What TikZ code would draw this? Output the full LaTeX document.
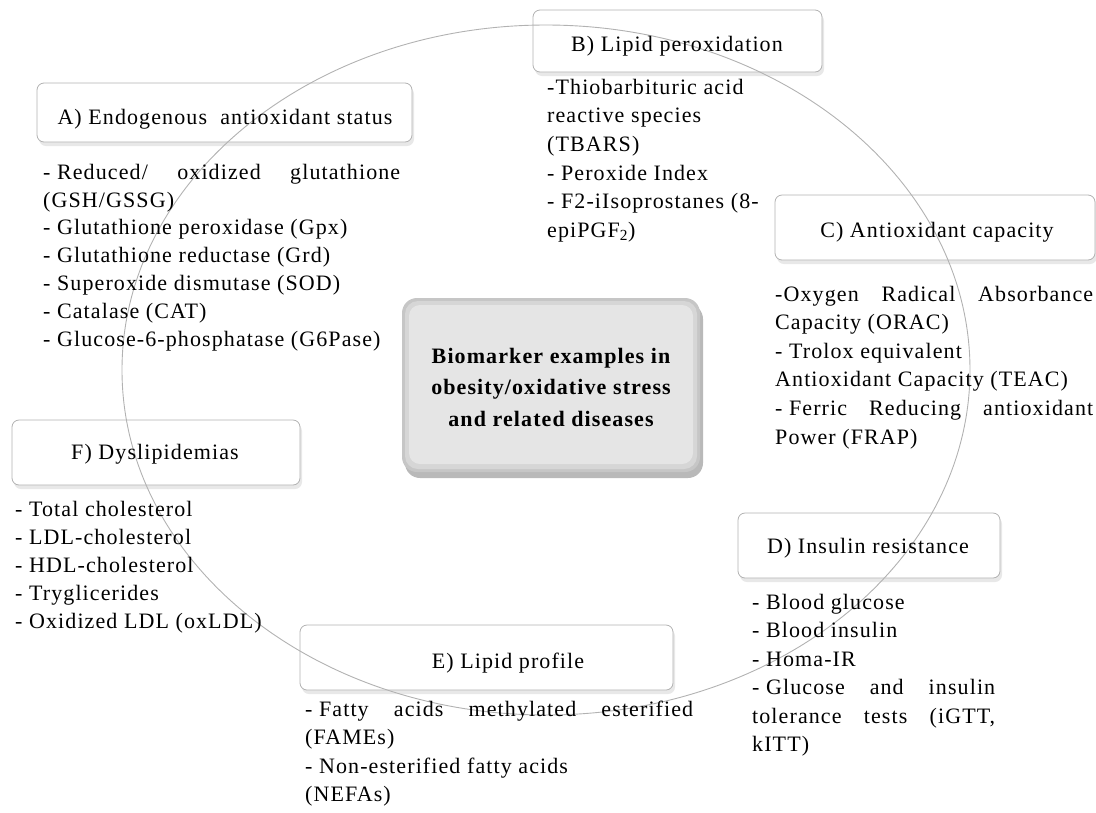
\documentclass[tikz,border=0pt]{standalone}
\usepackage{fontspec}
\setmainfont{Liberation Serif}[LetterSpace=5]
\usetikzlibrary{shadows}
\begin{document}
\begin{tikzpicture}[x=1pt,y=-1pt,
  box/.style={draw=gray!60, line width=0.8pt, rounded corners=7pt, fill=white,
    drop shadow={opacity=0.18, shadow xshift=2pt, shadow yshift=-4pt}, inner sep=0pt},
  ttl/.style={inner sep=0pt, font=\fontsize{22}{26}\selectfont},
  lst/.style={anchor=base west, align=left, inner sep=0pt},
  ring/.style={draw=gray!60, line width=0.9pt}]
\useasboundingbox (0,0) rectangle (1096,812);
% boxes
\node[box, minimum width=375pt, minimum height=59pt] (A) at (224.5,112.5) {};
\node[box, minimum width=289pt, minimum height=62pt] (B) at (677.5,41) {};
\node[box, minimum width=320pt, minimum height=65pt] (C) at (935,227.5) {};
\node[box, minimum width=262pt, minimum height=65pt] (D) at (869,545.5) {};
\node[box, minimum width=373pt, minimum height=65pt] (E) at (486.5,657.5) {};
\node[box, minimum width=288pt, minimum height=65pt] (F) at (156,452.5) {};
% centre box
\fill[gray!55, rounded corners=15pt] (405,304) rectangle (703,478);
\node[fill=gray!45, rounded corners=15pt, minimum width=298pt, minimum height=174pt, inner sep=0pt] (M) at (551,385) {};
\fill[gray!32, rounded corners=13pt] (405,301) rectangle (697,469);
\fill[gray!20, rounded corners=11pt] (409,305) rectangle (693,464);
% ring
\draw[ring] (546,370) ellipse [x radius=424pt, y radius=345pt];
% titles
\node[ttl] (At) at (225,119) {A) Endogenous\ \ antioxidant status};
\node[ttl] (Bt) at (677,46) {B) Lipid peroxidation};
\node[ttl] (Ct) at (937,232) {C) Antioxidant capacity};
\node[ttl] (Dt) at (868,548) {D) Insulin resistance};
\node[ttl] (Et) at (508,663) {E) Lipid profile};
\node[ttl] (Ft) at (155,454) {F) Dyslipidemias};
\node[inner sep=0pt, align=center, font=\bfseries\fontsize{22}{31.5}\selectfont] (Mt) at (551,387)
  {Biomarker examples in\\obesity/oxidative stress\\and related diseases};
% lists (anchored at the baseline of their last line)
\node[lst, font=\fontsize{22}{27.8}\selectfont] (Al) at (43,346) {%
\makebox[357pt][s]{\mbox{- Reduced/} oxidized glutathione}\\
(GSH/GSSG)\\
- Glutathione peroxidase (Gpx)\\
- Glutathione reductase (Grd)\\
- Superoxide dismutase (SOD)\\
- Catalase (CAT)\\
- Glucose-6-phosphatase (G6Pase)};
\node[lst, font=\fontsize{22}{28.7}\selectfont] (Bl) at (547,237.5) {%
-Thiobarbituric acid\\
reactive species\\
(TBARS)\\
- Peroxide Index\\
- F2-iIsoprostanes (8-\\
epiPGF\textsubscript{2})};
\node[lst, font=\fontsize{22}{28.6}\selectfont] (Cl) at (775,444) {%
\makebox[318pt][s]{-Oxygen Radical Absorbance}\\
Capacity (ORAC)\\
- Trolox equivalent\\
Antioxidant Capacity (TEAC)\\
\makebox[318pt][s]{\mbox{- Ferric} Reducing antioxidant}\\
Power (FRAP)};
\node[lst, font=\fontsize{22}{28.5}\selectfont] (Dl) at (752,751.5) {%
- Blood glucose\\
- Blood insulin\\
- Homa-IR\\
\makebox[243pt][s]{\mbox{- Glucose} and insulin}\\
\makebox[243pt][s]{tolerance tests (iGTT,}\\
kITT)};
\node[lst, font=\fontsize{22}{28.5}\selectfont] (El) at (305,801.5) {%
\makebox[388pt][s]{\mbox{- Fatty} acids methylated esterified}\\
(FAMEs)\\
- Non-esterified fatty acids\\
(NEFAs)};
\node[lst, font=\fontsize{22}{28}\selectfont] (Fl) at (15,628) {%
- Total cholesterol\\
- LDL-cholesterol\\
- HDL-cholesterol\\
- Tryglicerides\\
- Oxidized LDL (oxLDL)};
\end{tikzpicture}
\end{document}
